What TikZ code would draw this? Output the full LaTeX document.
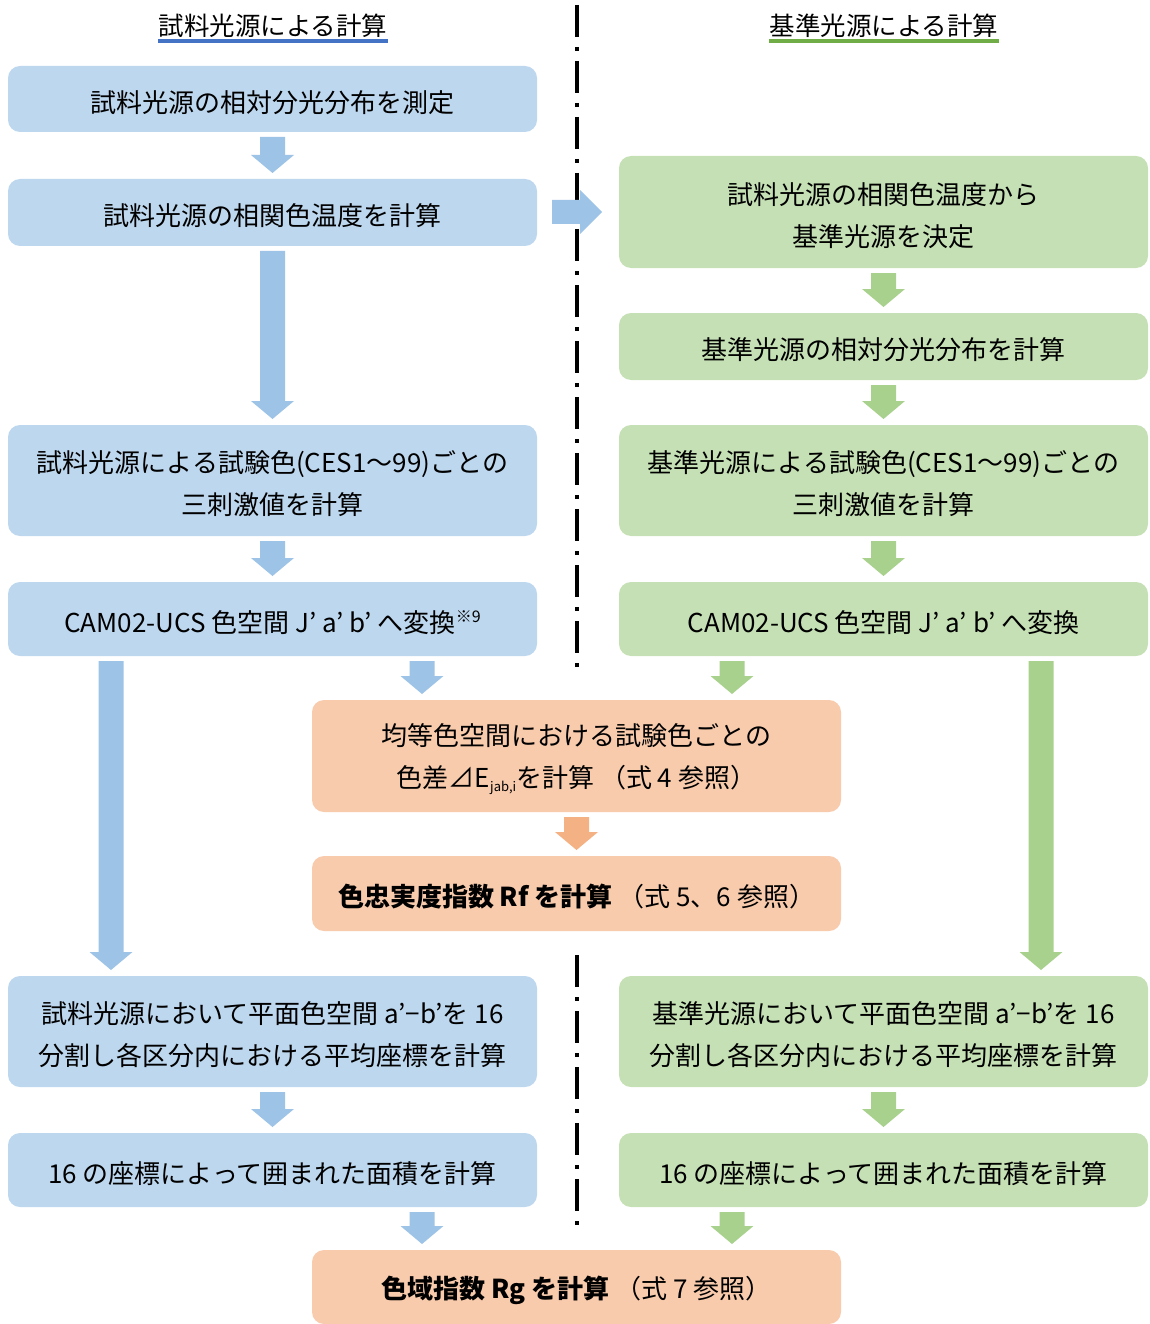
\documentclass[tikz,border=0pt]{standalone}
\usepackage{fontspec}
\setmainfont{Noto Sans CJK JP}
\usetikzlibrary{calc}
\definecolor{bbox}{HTML}{BDD7EE}
\definecolor{barrow}{HTML}{9DC3E6}
\definecolor{gbox}{HTML}{C5E0B4}
\definecolor{garrow}{HTML}{A9D18E}
\definecolor{obox}{HTML}{F8CBAD}
\definecolor{oarrow}{HTML}{F4B183}
\definecolor{ublue}{HTML}{4472C4}
\definecolor{ugreen}{HTML}{70AD47}
\newcommand\varr[4]{%
 \fill[#1] let \p1=(#3.south), \p2=(#4.north) in
 ({#2pt-12.5pt},{\y1-5pt}) -- ({#2pt+12.5pt},{\y1-5pt}) -- ({#2pt+12.5pt},{\y2+24pt}) -- ({#2pt+21.5pt},{\y2+24pt}) -- ({#2pt},{\y2+6pt}) -- ({#2pt-21.5pt},{\y2+24pt}) -- ({#2pt-12.5pt},{\y2+24pt}) -- cycle;}
\newcommand\subtxt[1]{\raisebox{-4pt}{\fontsize{13}{13}\selectfont #1}}
\newcommand\suptxt[1]{\raisebox{10pt}{\fontsize{16}{16}\selectfont #1}}
\newcommand\st{\rule{0pt}{29pt}}
\begin{document}
\begin{tikzpicture}[x=1pt,y=-1pt,
  box/.style={rounded corners=12pt, inner sep=0pt, outer sep=0pt, minimum width=529pt, align=center, font=\fontsize{26}{42}\selectfont, execute at begin node={\st}},
  ttl/.style={inner sep=0pt, anchor=base, font=\fontsize{25.5}{30}\selectfont},
  sep/.style={line width=3.5pt, dash pattern=on 32pt off 10pt on 4pt off 10pt}]
\useasboundingbox (0,0) rectangle (1149,1324);
% titles
\node[ttl] (TL) at (273,36) {試料光源による計算};
\draw[ublue, line width=4pt] ([yshift=-5pt]TL.base west) -- ([yshift=-5pt]TL.base east);
\node[ttl] (TR) at (884,36) {基準光源による計算};
\draw[ugreen, line width=4pt] ([yshift=-5pt]TR.base west) -- ([yshift=-5pt]TR.base east);
% separator
\draw[sep] (577,5) -- (577,670);
\draw[sep] (577,955) -- (577,1225);
% left column
\node[box, fill=bbox, minimum height=66pt] (L1) at (272.5,99) {試料光源の相対分光分布を測定};
\node[box, fill=bbox, minimum height=67pt] (L2) at (272.5,212.5) {試料光源の相関色温度を計算};
\node[box, fill=bbox, minimum height=111pt] (L3) at (272.5,480.5) {\st 試料光源による試験色(CES1～99)ごとの\\三刺激値を計算};
\node[box, fill=bbox, minimum height=74pt] (L4) at (272.5,619) {CAM02-UCS 色空間 J’ a’ b’ へ変換\suptxt{※9}};
\node[box, fill=bbox, minimum height=111pt] (L5) at (272.5,1031.5) {\st 試料光源において平面色空間 a’−b’を 16\\分割し各区分内における平均座標を計算};
\node[box, fill=bbox, minimum height=74pt] (L6) at (272.5,1170) {16 の座標によって囲まれた面積を計算};
% right column
\node[box, fill=gbox, minimum height=112pt] (R1) at (883.5,212) {\st 試料光源の相関色温度から\\基準光源を決定};
\node[box, fill=gbox, minimum height=67pt] (R2) at (883.5,346.5) {基準光源の相対分光分布を計算};
\node[box, fill=gbox, minimum height=111pt] (R3) at (883.5,480.5) {\st 基準光源による試験色(CES1～99)ごとの\\三刺激値を計算};
\node[box, fill=gbox, minimum height=74pt] (R4) at (883.5,619) {CAM02-UCS 色空間 J’ a’ b’ へ変換};
\node[box, fill=gbox, minimum height=111pt] (R5) at (883.5,1031.5) {\st 基準光源において平面色空間 a’−b’を 16\\分割し各区分内における平均座標を計算};
\node[box, fill=gbox, minimum height=74pt] (R6) at (883.5,1170) {16 の座標によって囲まれた面積を計算};
% middle
\node[box, fill=obox, minimum height=112pt] (M1) at (576.5,756) {\st 均等色空間における試験色ごとの\\色差⊿E\subtxt{jab,i}を計算 （式 4 参照）};
\node[box, fill=obox, minimum height=75pt] (M2) at (576.5,893.5) {\textbf{色忠実度指数 Rf を計算} （式 5、6 参照）};
\node[box, fill=obox, minimum height=74pt] (M3) at (576.5,1287) {\textbf{色域指数 Rg を計算} （式 7 参照）};
% arrows
\varr{barrow}{272.5}{L1}{L2}
\varr{barrow}{272.5}{L2}{L3}
\varr{barrow}{272.5}{L3}{L4}
\varr{barrow}{111}{L4}{L5}
\varr{barrow}{422}{L4}{M1}
\varr{barrow}{272.5}{L5}{L6}
\varr{barrow}{422}{L6}{M3}
\varr{garrow}{883.5}{R1}{R2}
\varr{garrow}{883.5}{R2}{R3}
\varr{garrow}{883.5}{R3}{R4}
\varr{garrow}{1041}{R4}{R5}
\varr{garrow}{732}{R4}{M1}
\varr{garrow}{883.5}{R5}{R6}
\varr{garrow}{732}{R6}{M3}
\varr{oarrow}{576.5}{M1}{M2}
\fill[barrow] let \p1=(L2.east), \p2=(R1.west) in
 ({\x1+15pt},{\y2+12pt}) -- ({\x2-39pt},{\y2+12pt}) -- ({\x2-39pt},{\y2+22pt}) -- ({\x2-17pt},{\y2}) -- ({\x2-39pt},{\y2-22pt}) -- ({\x2-39pt},{\y2-12pt}) -- ({\x1+15pt},{\y2-12pt}) -- cycle;
\end{tikzpicture}
\end{document}
